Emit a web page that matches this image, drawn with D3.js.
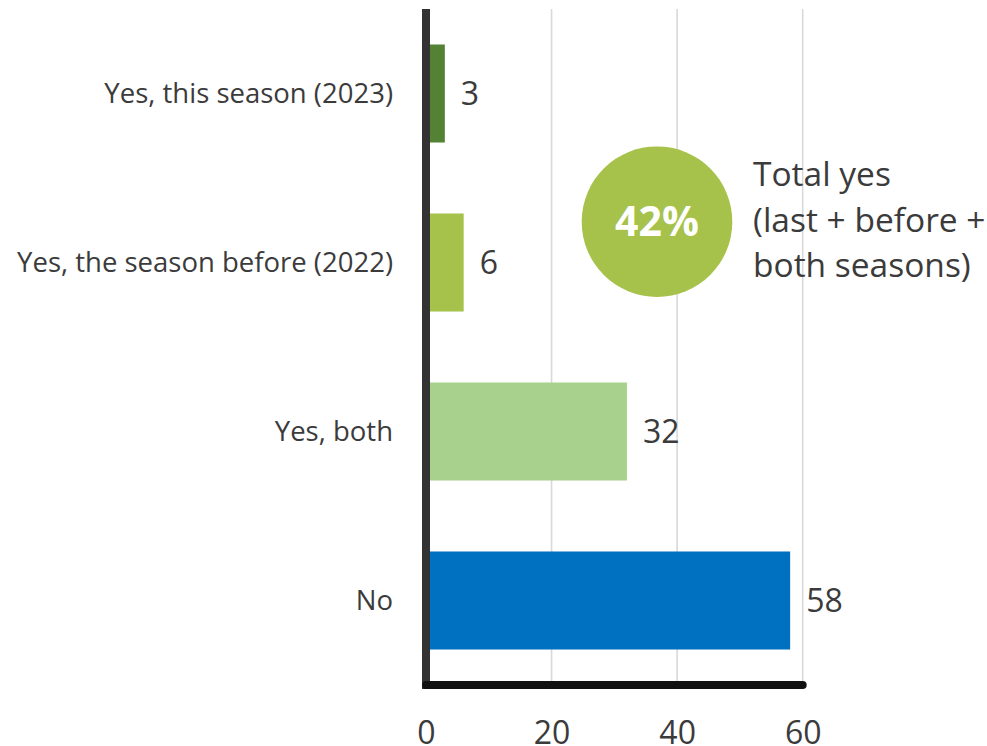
<!DOCTYPE html>
<html>
<head>
<meta charset="utf-8">
<script src="https://cdn.jsdelivr.net/npm/d3@7"></script>
<style>
  html, body { margin: 0; padding: 0; background: #fff; }
  svg { display: block; }
  text { font-family: "Open Sans", Lato, sans-serif; fill: #3b3b3b; }
</style>
</head>
<body>
<svg id="chart" width="987" height="746"></svg>
<script>
// Survey answers and their shares (%)
const categories = ["Yes, this season (2023)", "Yes, the season before (2022)", "Yes, both", "No"];
const values = [3, 6, 32, 58];
const barColors = ["#548235", "#a6c24a", "#a9d18e", "#0070c0"];
const tickValues = [0, 20, 40, 60];
const totalYes = "42%";
const noteLines = ["Total yes", "(last + before +", "both seasons)"];

const svg = d3.select("#chart");

const x = d3.scaleLinear().domain([0, 60]).range([426, 802.7]);
const y = d3.scaleBand().domain(categories).range([9, 685])
  .paddingInner(0.42).paddingOuter(0.21);

const data = categories.map((c, i) => ({ cat: c, value: values[i], color: barColors[i] }));

// vertical gridlines
svg.append("g").selectAll("line")
  .data(tickValues.filter(d => d > 0))
  .join("line")
  .attr("x1", d => x(d)).attr("x2", d => x(d))
  .attr("y1", 9).attr("y2", 681)
  .attr("stroke", "#d9d9d9").attr("stroke-width", 1.6);

// bars
svg.append("g").selectAll("rect")
  .data(data)
  .join("rect")
  .attr("x", x(0))
  .attr("y", d => y(d.cat))
  .attr("width", d => x(d.value) - x(0))
  .attr("height", y.bandwidth())
  .attr("fill", d => d.color);

// value labels
svg.append("g").selectAll("text")
  .data(data)
  .join("text")
  .attr("x", d => x(d.value) + 16)
  .attr("y", d => y(d.cat) + y.bandwidth() / 2)
  .attr("dy", "0.36em")
  .attr("font-size", 32)
  .text(d => d.value);

// category labels
svg.append("g").selectAll("text")
  .data(data)
  .join("text")
  .attr("x", 393)
  .attr("y", d => y(d.cat) + y.bandwidth() / 2)
  .attr("dy", "0.36em")
  .attr("text-anchor", "end")
  .attr("font-size", 27.5)
  .text(d => d.cat);

// value axis
const xAxis = d3.axisBottom(x).tickValues(tickValues).tickSize(0).tickPadding(0);
const gx = svg.append("g").attr("transform", "translate(0,744)").call(xAxis);
gx.select(".domain").remove();
gx.selectAll("text")
  .attr("dy", 0)
  .attr("font-size", 32)
  .attr("font-family", "'Open Sans', Lato, sans-serif")
  .attr("fill", "#3b3b3b");

// axis lines
svg.append("line")
  .attr("x1", x(0)).attr("x2", x(0))
  .attr("y1", 9).attr("y2", 689)
  .attr("stroke", "#333").attr("stroke-width", 8);
svg.append("line")
  .attr("x1", x(0)).attr("x2", x(60))
  .attr("y1", 685).attr("y2", 685)
  .attr("stroke", "#111").attr("stroke-width", 8)
  .attr("stroke-linecap", "round");

// total-yes callout
svg.append("circle")
  .attr("cx", 657).attr("cy", 221.7).attr("r", 75.3)
  .attr("fill", barColors[1]);
svg.append("text")
  .attr("x", 657).attr("y", 221.7)
  .attr("dy", "0.36em")
  .attr("text-anchor", "middle")
  .attr("font-size", 41)
  .attr("font-weight", "bold")
  .style("fill", "#fff")
  .text(totalYes);

svg.append("g").selectAll("text")
  .data(noteLines)
  .join("text")
  .attr("x", 753)
  .attr("y", (d, i) => 186 + i * 45.5)
  .attr("font-size", 33.5)
  .text(d => d);
</script>
</body>
</html>
